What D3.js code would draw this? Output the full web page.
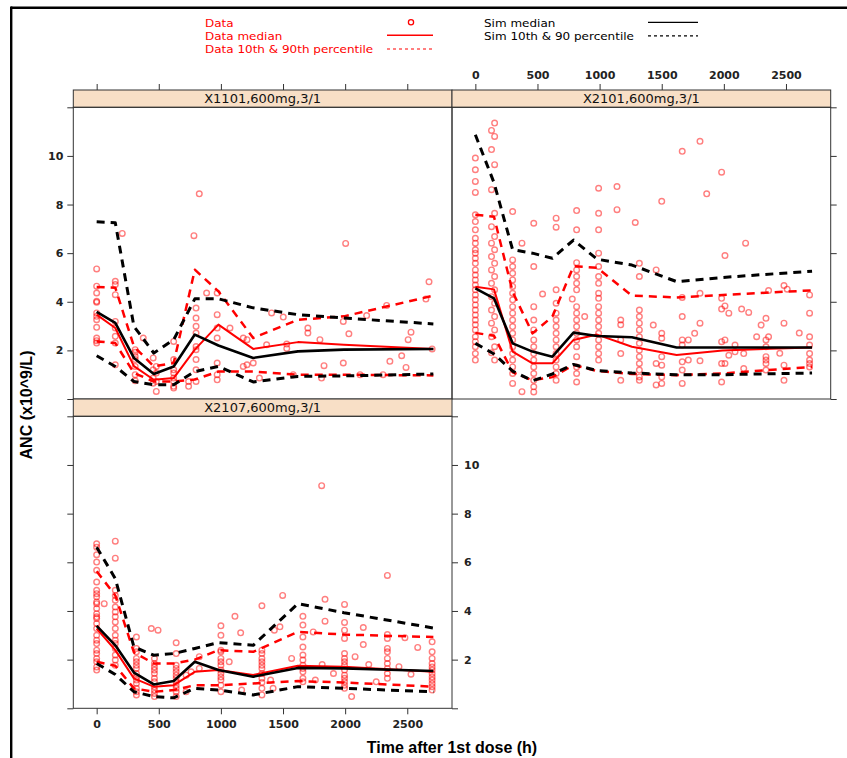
<!DOCTYPE html>
<html>
<head>
<meta charset="utf-8">
<script src="https://cdn.jsdelivr.net/npm/d3@7"></script>
<style>
  body { margin: 0; background: #fff; }
  svg { display: block; }
  text { font-family: "DejaVu Sans", "Liberation Sans", Arial, sans-serif; }
  text.title { font-family: "Liberation Sans", Arial, sans-serif; font-weight: bold; font-size: 16px; }
</style>
</head>
<body>
<div id="chart"></div>
<script>
// ---- data ----
const panelNames = ["X1101,600mg,3/1", "X2101,600mg,3/1", "X2107,600mg,3/1"];
const xTicks = [0, 500, 1000, 1500, 2000, 2500];
const yTicks = [0, 2, 4, 6, 8, 10, 12];

// nominal time bins used by the summary lines
const binTimes = [0, 150, 300, 460, 620, 790, 980, 1260, 1620, 1990, 2710];

// X1101
const simMed1101 = [3.58, 3.13, 1.69, 1.03, 1.34, 2.65, 2.20, 1.69, 1.96, 2.03, 2.06];
const simLo1101  = [1.78, 1.34, 0.72, 0.59, 0.59, 1.13, 1.34, 0.70, 0.93, 0.95, 1.03];
const simHi1101  = [7.29, 7.25, 2.99, 1.89, 2.44, 4.12, 4.12, 3.75, 3.47, 3.33, 3.09];
const obsMed1101 = [3.47, 2.92, 1.35, 0.79, 0.86, 2.03, 3.06, 2.06, 2.34, 2.23, 2.06];
const obsLo1101  = [2.37, 2.30, 1.07, 0.72, 0.72, 0.80, 1.13, 1.13, 1.00, 1.00, 0.97];
const obsHi1101  = [4.61, 4.58, 2.16, 1.34, 1.48, 5.32, 4.43, 2.51, 3.26, 3.40, 4.25];
const pts1101 = [
  [0, [5.35, 4.64, 4.36, 4.02, 3.98, 3.54, 3.40, 3.26, 2.95, 2.51, 2.40, 2.30]],
  [150, [4.84, 4.71, 4.29, 3.19, 2.92, 2.58, 2.30, 1.41]],
  [206, [6.81]],
  [310, [2.03, 1.92, 1.75, 1.62, 1.34, 1.00, 0.75]],
  [375, [2.51]],
  [455, [1.69, 1.20, 0.86, 0.65]],
  [480, [1.34, 1.07, 0.72, 0.31]],
  [620, [2.37, 1.62, 1.20, 1.07, 0.86, 0.72, 0.52, 0.45]],
  [740, [0.72, 0.52]],
  [783, [6.72]],
  [800, [3.74, 3.33, 2.99, 2.71, 2.16, 2.03, 1.62, 1.20, 0.72]],
  [826, [8.44]],
  [885, [4.36]],
  [970, [4.36, 3.47, 2.92, 2.51, 1.48, 1.00, 0.79]],
  [1073, [2.92]],
  [1180, [1.34, 2.51]],
  [1210, [1.41, 2.44]],
  [1260, [1.48]],
  [1310, [0.86]],
  [1368, [2.23]],
  [1408, [3.54]],
  [1502, [3.37]],
  [1530, [2.26, 2.08]],
  [1582, [1.00]],
  [1700, [2.92, 2.71]],
  [1797, [2.44]],
  [1810, [0.86]],
  [1830, [1.37]],
  [1985, [3.19, 1.48]],
  [2004, [6.40]],
  [2030, [2.68]],
  [2120, [1.00]],
  [2173, [3.43]],
  [2305, [1.00]],
  [2334, [3.85]],
  [2360, [1.55]],
  [2455, [1.78]],
  [2490, [1.30]],
  [2507, [2.44]],
  [2530, [2.75]],
  [2650, [4.11]],
  [2675, [4.82]],
  [2700, [2.06]]
];

// X2101
const simMed2101 = [4.55, 4.14, 2.29, 1.95, 1.74, 2.73, 2.59, 2.54, 2.12, 2.12, 2.12];
const simLo2101  = [2.29, 1.85, 1.15, 0.75, 1.03, 1.42, 1.17, 1.07, 1.00, 1.00, 1.07];
const simHi2101  = [10.87, 8.90, 6.14, 6.00, 5.79, 6.54, 5.75, 5.51, 4.83, 5.00, 5.26];
const obsMed2101 = [4.62, 4.51, 1.95, 1.47, 1.47, 2.43, 2.65, 2.15, 1.81, 2.00, 2.12];
const obsLo2101  = [2.72, 2.60, 1.10, 0.77, 0.90, 1.40, 1.15, 1.03, 0.98, 1.05, 1.32];
const obsHi2101  = [7.58, 7.50, 4.41, 2.70, 3.39, 5.46, 5.40, 4.25, 4.18, 4.28, 4.47];
const pts2101 = [
  [0, [9.91, 9.43, 8.95, 8.50, 7.58, 7.30, 6.96, 6.61, 6.41, 6.14, 6.00, 5.79, 5.58, 5.31, 5.10, 4.90,
       4.69, 4.49, 4.28, 4.08, 3.87, 3.66, 3.46, 3.25, 3.05, 2.84, 2.56, 2.36, 2.15, 1.87, 1.60]],
  [130, [11.05, 10.26, 8.61, 7.09, 6.41, 5.86, 5.31, 4.76, 4.21, 3.66, 3.12, 2.56, 1.90]],
  [155, [11.35, 10.80, 9.64, 7.64, 6.68, 6.14, 5.58, 5.04, 4.49, 3.94, 3.39, 2.84, 2.15, 1.60]],
  [300, [7.71, 5.72, 5.45, 5.17, 4.90, 4.63, 4.35, 4.08, 3.80, 3.53, 3.25, 2.98, 2.70, 2.43, 2.15,
         1.87, 1.60, 1.32, 1.05, 0.64]],
  [375, [6.41, 0.30]],
  [470, [7.23, 5.45, 3.80, 3.25, 2.84, 2.43, 2.15, 1.87, 1.60, 1.32, 1.05, 0.77, 0.50, 0.29]],
  [541, [4.32]],
  [650, [7.44, 7.07, 4.49, 3.94, 3.53, 3.25, 2.98, 2.70, 2.43, 2.15, 1.87, 1.60, 1.32, 1.05, 0.77]],
  [780, [4.11]],
  [815, [7.75, 6.96, 5.61, 5.31, 5.04, 4.76, 4.49, 3.80, 3.53, 3.25, 2.98, 2.70, 2.43, 2.15, 1.74,
         1.32, 1.05, 0.70]],
  [880, [3.39]],
  [992, [8.67, 7.64, 6.96, 6.00, 5.45, 5.04, 4.76, 4.35, 4.14, 3.80, 3.53, 3.25, 2.98, 2.70, 2.43,
         2.15, 1.87, 1.60]],
  [1140, [8.74, 7.79]],
  [1170, [3.25, 3.05, 2.43, 1.87, 0.77]],
  [1287, [7.26]],
  [1320, [5.58, 5.04, 3.66, 3.39, 3.12, 2.84, 2.56, 2.29, 2.01, 1.74, 1.46, 1.19, 0.91, 0.77]],
  [1432, [3.04]],
  [1455, [5.31, 1.46, 0.58]],
  [1500, [8.13, 2.70, 2.50, 1.74, 1.39, 0.91, 0.64]],
  [1665, [10.19, 4.18, 3.39, 2.43, 2.22, 1.53, 1.19, 0.64]],
  [1714, [1.60, 2.43]],
  [1765, [2.70]],
  [1808, [10.60, 4.35, 3.12, 1.57]],
  [1862, [8.44]],
  [1982, [9.33, 4.14, 3.70, 2.36, 1.46, 0.70]],
  [2009, [5.90, 3.83, 2.43, 1.46]],
  [2040, [3.53, 1.80]],
  [2090, [2.22, 1.94]],
  [2143, [3.70]],
  [2160, [1.87, 1.25]],
  [2175, [6.41]],
  [2200, [3.56]],
  [2264, [2.56]],
  [2300, [3.04]],
  [2339, [3.32, 2.43, 2.15, 1.74, 1.60, 1.46, 1.19]],
  [2360, [2.56, 4.46]],
  [2450, [1.88]],
  [2484, [3.12, 4.67, 1.39, 0.77]],
  [2510, [4.52]],
  [2607, [2.71]],
  [2690, [4.28, 3.53, 2.56, 2.22, 1.87, 1.60, 1.46, 1.32]]
];

// X2107
const simMed2107 = [3.39, 2.59, 1.47, 0.98, 1.12, 1.91, 1.57, 1.30, 1.66, 1.64, 1.53];
const simLo2107  = [1.84, 1.39, 0.68, 0.48, 0.43, 0.82, 0.75, 0.55, 0.89, 0.82, 0.68];
const simHi2107  = [6.62, 5.33, 2.52, 2.18, 2.25, 2.46, 2.70, 2.59, 4.30, 3.93, 3.30];
const obsMed2107 = [3.28, 2.39, 1.23, 0.89, 0.95, 1.50, 1.57, 1.37, 1.75, 1.71, 1.50];
const obsLo2107  = [1.91, 1.75, 0.82, 0.68, 0.75, 0.95, 0.95, 1.02, 1.12, 1.06, 0.89];
const obsHi2107  = [5.63, 4.64, 2.30, 1.84, 1.84, 2.00, 2.39, 2.32, 3.14, 3.03, 2.93];
const pts2107 = [
  [0, [6.76, 6.62, 6.31, 6.01, 5.67, 5.19, 4.85, 4.71, 4.58, 4.37, 4.30, 4.10, 3.89, 3.76, 3.69, 3.48,
       3.28, 3.00, 2.80, 2.66, 2.39, 2.25, 2.05, 1.91, 1.70, 1.57]],
  [61, [4.30]],
  [150, [6.87, 6.17, 4.85, 4.64, 4.44, 4.16, 3.96, 3.76, 3.55, 3.28, 3.00, 2.80, 2.66, 2.46, 2.19, 1.98, 1.77]],
  [320, [2.93, 2.46, 2.32, 2.05, 1.91, 1.77, 1.64, 1.43, 1.29, 1.16, 1.02, 0.82, 0.68, 0.55]],
  [440, [3.28]],
  [465, [2.05, 1.84, 1.70, 1.57, 1.43, 1.23, 1.09, 0.89, 0.75, 0.61, 0.48]],
  [494, [3.21]],
  [640, [2.69, 2.25, 1.77, 1.64, 1.50, 1.36, 1.23, 1.09, 0.95, 0.82, 0.68, 0.48]],
  [720, [0.68, 1.36]],
  [760, [1.50]],
  [826, [2.12, 1.64]],
  [1000, [3.39, 3.00, 2.39, 2.32, 2.05, 1.91, 1.77, 1.57, 1.43, 1.29, 1.16, 0.95, 0.68]],
  [1067, [1.91]],
  [1113, [3.78]],
  [1159, [3.10]],
  [1167, [0.75]],
  [1330, [4.21, 2.39, 2.25, 2.05, 1.91, 1.77, 1.64, 1.43, 1.23, 1.06, 0.82, 0.55]],
  [1400, [1.16]],
  [1420, [0.82]],
  [1430, [3.21]],
  [1475, [3.35]],
  [1497, [4.64]],
  [1569, [2.05]],
  [1660, [3.78, 3.42, 2.93, 2.52, 2.19, 1.98, 1.77, 1.64, 1.50, 1.23, 1.09]],
  [1743, [3.14]],
  [1760, [1.16]],
  [1811, [9.15]],
  [1815, [1.80]],
  [1838, [4.48, 3.58]],
  [1906, [1.43]],
  [1995, [4.27, 3.53, 3.21, 2.87, 2.25, 2.05, 1.91, 1.77, 1.57, 1.36, 1.23, 1.09, 0.95, 0.82]],
  [2052, [0.48]],
  [2080, [2.12]],
  [2146, [2.62, 3.32]],
  [2190, [1.80]],
  [2250, [1.09]],
  [2340, [5.46, 3.03, 2.87, 2.46, 2.32, 2.05, 1.84, 1.64, 1.43, 1.23]],
  [2433, [1.71]],
  [2481, [2.90]],
  [2530, [1.40]],
  [2584, [2.50]],
  [2700, [2.73, 2.32, 2.05, 1.84, 1.70, 1.57, 1.43, 1.29, 1.16, 1.02, 0.89, 0.75]]
];

// ---- layout ----
const W = 847, H = 758;
const svg = d3.select("#chart").append("svg").attr("width", W).attr("height", H);

const colX = [[73.3, 452], [452, 830.7]];
const rowY = [{ strip: 90, top: 107.3, bottom: 399 }, { strip: 399, top: 416.3, bottom: 708.3 }];
const xDomain = [-188, 2860];
const yDomain = [0, 12];
const red = "#ff0000";
const axisColor = "#333";
const tickFont = "11px";

const panels = [
  { name: panelNames[0], col: 0, row: 0, pts: pts1101,
    lines: { simMed: simMed1101, simLo: simLo1101, simHi: simHi1101, obsMed: obsMed1101, obsLo: obsLo1101, obsHi: obsHi1101 },
    axes: { left: true, leftLab: true, top: true, topLab: false } },
  { name: panelNames[1], col: 1, row: 0, pts: pts2101,
    lines: { simMed: simMed2101, simLo: simLo2101, simHi: simHi2101, obsMed: obsMed2101, obsLo: obsLo2101, obsHi: obsHi2101 },
    axes: { right: true, rightLab: false, top: true, topLab: true } },
  { name: panelNames[2], col: 0, row: 1, pts: pts2107,
    lines: { simMed: simMed2107, simLo: simLo2107, simHi: simHi2107, obsMed: obsMed2107, obsLo: obsLo2107, obsHi: obsHi2107 },
    axes: { left: true, leftLab: false, right: true, rightLab: true, bottom: true, bottomLab: true } }
];

function styleAxis(g) {
  g.select(".domain").remove();
  g.selectAll(".tick line").attr("stroke", axisColor);
  g.selectAll(".tick text").attr("fill", "#222").attr("font-size", tickFont).attr("font-weight", "bold");
}

const yFmt = d => (d === 0 || d === 12) ? "" : d;

panels.forEach((p, i) => {
  const [x0, x1] = colX[p.col];
  const r = rowY[p.row];
  const x = d3.scaleLinear().domain(xDomain).range([x0, x1]);
  const y = d3.scaleLinear().domain(yDomain).range([r.bottom, r.top]);

  // axes
  if (p.axes.top) {
    svg.append("g").attr("transform", `translate(0,${r.strip})`)
      .call(d3.axisTop(x).tickValues(xTicks).tickSize(6).tickPadding(5)
        .tickFormat(p.axes.topLab ? d => d : ""))
      .call(styleAxis);
  }
  if (p.axes.bottom) {
    svg.append("g").attr("transform", `translate(0,${r.bottom})`)
      .call(d3.axisBottom(x).tickValues(xTicks).tickSize(6).tickPadding(6)
        .tickFormat(p.axes.bottomLab ? d => d : ""))
      .call(styleAxis);
  }
  if (p.axes.left) {
    svg.append("g").attr("transform", `translate(${x0},0)`)
      .call(d3.axisLeft(y).tickValues(yTicks).tickSize(6).tickPadding(4)
        .tickFormat(p.axes.leftLab ? yFmt : ""))
      .call(styleAxis);
  }
  if (p.axes.right) {
    svg.append("g").attr("transform", `translate(${x1},0)`)
      .call(d3.axisRight(y).tickValues(yTicks).tickSize(6).tickPadding(6)
        .tickFormat(p.axes.rightLab ? yFmt : ""))
      .call(styleAxis);
  }

  // strip
  svg.append("rect")
    .attr("x", x0).attr("y", r.strip)
    .attr("width", x1 - x0).attr("height", r.top - r.strip)
    .attr("fill", "#f8dfc6").attr("stroke", axisColor).attr("stroke-width", 1);
  svg.append("text")
    .attr("x", (x0 + x1) / 2).attr("y", r.top - 4)
    .attr("text-anchor", "middle").attr("font-size", "13px").attr("fill", "#111")
    .text(p.name);

  // clip
  svg.append("clipPath").attr("id", "clip" + i)
    .append("rect").attr("x", x0).attr("y", r.top).attr("width", x1 - x0).attr("height", r.bottom - r.top);
  const body = svg.append("g").attr("clip-path", `url(#clip${i})`);

  // observed points
  const pts = p.pts.flatMap(([t, vals]) => vals.map(v => ({ t, v })));
  body.selectAll("circle.obs").data(pts).enter().append("circle")
    .attr("class", "obs")
    .attr("cx", d => x(d.t)).attr("cy", d => y(d.v)).attr("r", 2.8)
    .attr("fill", "none").attr("stroke", red).attr("stroke-opacity", 0.5).attr("stroke-width", 1.4);

  const line = d3.line().x((d, k) => x(binTimes[k])).y(d => y(d));
  const drawLine = (vals, color, width, dash) => {
    body.append("path").datum(vals)
      .attr("d", line)
      .attr("fill", "none").attr("stroke", color).attr("stroke-width", width)
      .attr("stroke-linejoin", "round")
      .attr("stroke-dasharray", dash || null);
  };
  drawLine(p.lines.obsLo, red, 2.5, "8,6");
  drawLine(p.lines.obsHi, red, 2.5, "8,6");
  drawLine(p.lines.obsMed, red, 2, null);
  drawLine(p.lines.simLo, "#000", 3, "8,6");
  drawLine(p.lines.simHi, "#000", 3, "8,6");
  drawLine(p.lines.simMed, "#000", 2.6, null);

  // panel border
  svg.append("rect")
    .attr("x", x0).attr("y", r.top)
    .attr("width", x1 - x0).attr("height", r.bottom - r.top)
    .attr("fill", "none").attr("stroke", axisColor).attr("stroke-width", 1);
});

// axis titles
svg.append("text").attr("class", "title")
  .attr("x", (colX[0][0] + colX[1][1]) / 2).attr("y", 753)
  .attr("text-anchor", "middle")
  .text("Time after 1st dose (h)");
svg.append("text").attr("class", "title")
  .attr("transform", `translate(32,405) rotate(-90)`)
  .attr("text-anchor", "middle")
  .text("ANC (x10^9/L)");

// legend
const legend = svg.append("g").attr("font-size", "11px");
const legLeft = [
  { label: "Data", y: 22.3, kind: "pt" },
  { label: "Data median", y: 35.3, kind: "solid" },
  { label: "Data 10th & 90th percentile", y: 49, kind: "dash" }
];
const legRight = [
  { label: "Sim median", y: 22.3, kind: "solid" },
  { label: "Sim 10th & 90 percentile", y: 35.8, kind: "dash" }
];
const legText = (x, y, color, label) =>
  legend.append("text").attr("transform", `translate(${x},${y + 4.3}) scale(1.09,1)`)
    .attr("fill", color).text(label);
legLeft.forEach(d => {
  legText(205, d.y, red, d.label);
  if (d.kind === "pt") {
    legend.append("circle").attr("cx", 411).attr("cy", d.y).attr("r", 2.6)
      .attr("fill", "none").attr("stroke", red).attr("stroke-width", 1.3);
  } else {
    legend.append("line").attr("x1", 387).attr("x2", 433).attr("y1", d.y).attr("y2", d.y)
      .attr("stroke", red).attr("stroke-width", d.kind === "solid" ? 1.6 : 1.1)
      .attr("stroke-dasharray", d.kind === "dash" ? "3,3" : null);
  }
});
legRight.forEach(d => {
  legText(484, d.y, "#000", d.label);
  legend.append("line").attr("x1", 648).attr("x2", 698).attr("y1", d.y).attr("y2", d.y)
    .attr("stroke", "#000").attr("stroke-width", 1.2)
    .attr("stroke-dasharray", d.kind === "dash" ? "3,3" : null);
});

// outer frame (top and left edges)
svg.append("line").attr("x1", 11).attr("x2", W).attr("y1", 7.8).attr("y2", 7.8)
  .attr("stroke", "#000").attr("stroke-width", 2.4);
svg.append("line").attr("x1", 11.2).attr("x2", 11.2).attr("y1", 6.6).attr("y2", H)
  .attr("stroke", "#000").attr("stroke-width", 2.4);
</script>
</body>
</html>
